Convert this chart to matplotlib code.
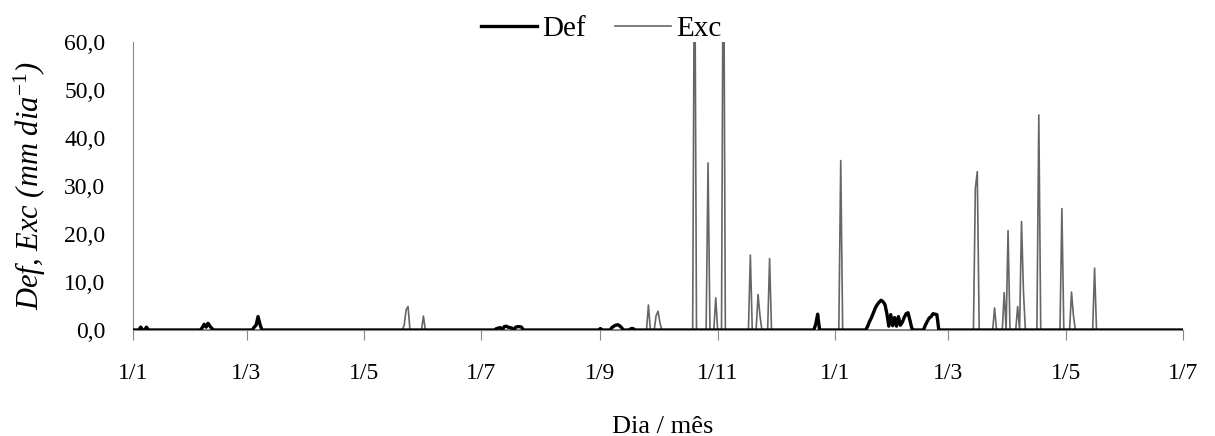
import numpy as np
import pandas as pd
import matplotlib
matplotlib.use('Agg')
import matplotlib.pyplot as plt

# daily series from 1/1 of year 1 to 1/7 of year 2 (day 0 = 1/1)
start = '2010-01-01'
end = '2011-07-01'

# Def (deficit) - nonzero days only, rest is zero
def_days = [4, 7,
            36, 37, 38, 39, 40, 41,
            63, 64, 65, 66,
            189, 190, 191, 193, 194, 195, 196, 197, 199, 200, 201, 202,
            243, 249, 250, 251, 252, 253, 254, 259, 260,
            355, 356,
            382, 383, 384, 385, 386, 387, 388, 389, 390, 391, 392, 393, 394,
            395, 396, 397, 398, 399, 400, 401, 402, 403, 404, 405,
            412, 413, 414, 415, 416, 417, 418]
def_vals = [0.6, 0.6,
            0.5, 1.2, 0.6, 1.4, 0.8, 0.3,
            0.6, 1.0, 2.8, 1.2,
            0.3, 0.4, 0.5, 0.7, 0.8, 0.6, 0.5, 0.4, 0.6, 0.7, 0.7, 0.6,
            0.3, 0.5, 0.8, 1.0, 1.1, 0.9, 0.5, 0.3, 0.3,
            1.2, 3.3,
            0.8, 1.8, 2.6, 3.6, 4.6, 5.3, 5.8, 6.2, 5.9, 5.3, 3.4, 0.8, 3.2,
            0.9, 2.6, 0.8, 2.8, 1.0, 1.6, 2.6, 3.4, 3.6, 2.0, 0.3,
            1.0, 1.8, 2.5, 2.8, 3.4, 3.3, 3.2]

# Exc (excess) - nonzero days only
exc_days = [141, 142, 143, 151, 268, 272, 273, 274,
            292, 299, 303, 307, 321, 325, 326, 331, 368,
            438, 439, 448, 453, 455, 460, 462, 463, 471, 483, 488, 489, 500]
exc_vals = [1.0, 4.2, 4.9, 2.9, 5.2, 3.0, 3.9, 1.5,
            90.0, 34.8, 6.7, 95.0, 15.6, 7.4, 3.0, 14.9, 35.3,
            29.5, 33.0, 4.6, 7.8, 20.7, 4.9, 22.6, 8.2, 44.8, 25.3, 7.9, 3.0, 12.9]

tick_dates = ['2010-01-01', '2010-03-01', '2010-05-01', '2010-07-01', '2010-09-01',
              '2010-11-01', '2011-01-01', '2011-03-01', '2011-05-01', '2011-07-01']
tick_labels = ['1/1', '1/3', '1/5', '1/7', '1/9', '1/11', '1/1', '1/3', '1/5', '1/7']
y_ticks = [0, 10, 20, 30, 40, 50, 60]

dates = pd.date_range(start, end, freq='D')
deficit = np.zeros(len(dates))
deficit[def_days] = def_vals
excess = np.zeros(len(dates))
excess[exc_days] = exc_vals

plt.rcParams['font.family'] = ['Liberation Serif', 'DejaVu Serif']
plt.rcParams['mathtext.fontset'] = 'custom'
plt.rcParams['mathtext.rm'] = 'Liberation Serif'
plt.rcParams['mathtext.it'] = 'Liberation Serif:italic'

fig = plt.figure(figsize=(12.15, 4.36), dpi=100)
ax = fig.add_axes([0.1095, 0.2431, 0.8642, 0.6606])

ax.plot(dates, excess, color='#666666', lw=1.2, label='Exc', zorder=2)
ax.plot(dates, deficit, color='black', lw=2.4, label='Def', zorder=3)

ax.set_xlim(dates[0], dates[-1])
ax.set_ylim(0, 60)
ax.set_xticks(pd.to_datetime(tick_dates))
ax.set_xticklabels(tick_labels)
ax.set_yticks(y_ticks)
ax.set_yticklabels([f'{v:.1f}'.replace('.', ',') for v in y_ticks])

ax.tick_params(axis='x', direction='out', length=7, color='#888888', labelsize=17, pad=17)
ax.tick_params(axis='y', length=0, labelsize=17, pad=20)

for s in ['top', 'right']:
    ax.spines[s].set_visible(False)
ax.spines['left'].set_color('#888888')
ax.spines['bottom'].set_color('#888888')

ax.set_ylabel(r'Def, Exc (mm dia$^{\mathit{-1}}$)', fontsize=22, style='italic')
ax.yaxis.set_label_coords(-0.098, 0.5)
ax.yaxis.label.set_va('center')
ax.set_xlabel('Dia / mês', fontsize=19)
ax.xaxis.set_label_coords(0.504, -0.30)

handles, labels = ax.get_legend_handles_labels()
fig.legend(handles[::-1], labels[::-1], loc='upper center', bbox_to_anchor=(0.495, 1.025),
           ncol=2, frameon=False, fontsize=21, handlelength=1.9, handletextpad=0.2,
           columnspacing=1.0)

fig.savefig('out.png', dpi=100)
